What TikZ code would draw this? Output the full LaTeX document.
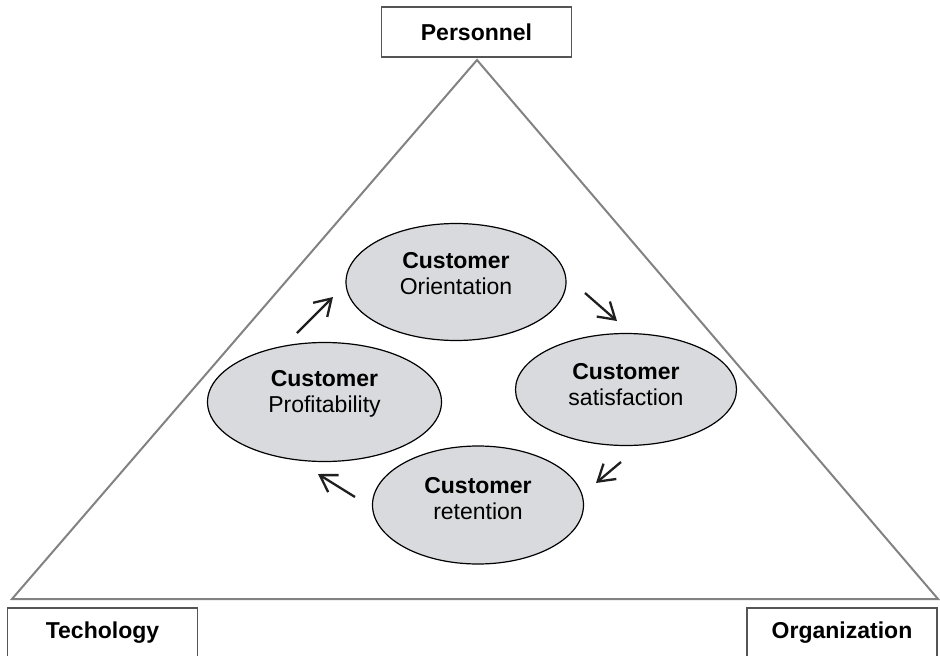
\documentclass[tikz,border=0pt]{standalone}
\usepackage{fontspec}
\setmainfont{Liberation Sans}
\usetikzlibrary{arrows.meta, shapes.geometric, positioning, calc}
\definecolor{bubblegray}{RGB}{217,218,221}
\definecolor{framegray}{RGB}{130,130,130}
\definecolor{boxgray}{RGB}{85,85,85}
\tikzset{
  cornerbox/.style={
    rectangle, draw=boxgray, line width=1.5pt, minimum width=190pt, minimum height=50pt,
    inner sep=0pt, font=\fontsize{23}{26}\selectfont\bfseries
  },
  bubble/.style={ellipse, draw=black, line width=1.2pt, fill=bubblegray, inner sep=0pt},
  bubbletext/.style={align=center, font=\fontsize{23}{26}\selectfont},
  flow/.style={-{Straight Barb[length=16pt, width=20pt]}, line width=2.3pt, draw=black!88}
}

\begin{document}
\begin{tikzpicture}[x=1pt, y=-1pt]
    \useasboundingbox (0,0) rectangle (940,656);
    % the three corners
    \node[cornerbox] (pers) at (476.5,32) {Personnel};
    \node[cornerbox] (tech) at (102.5,633) {Techology};
    \node[cornerbox] (org) at (842,633) {Organization};
    \coordinate (apex) at (477,60);
    \coordinate (baseL) at (12,599);
    \coordinate (baseR) at (938,599);
    \draw[framegray, line width=2pt] (apex) -- (baseR) -- (baseL) -- cycle;
    % the cycle of ellipses
    \node[bubble, minimum width=220pt, minimum height=117pt] (orient) at (456,282) {};
    \node[bubble, minimum width=221pt, minimum height=112pt] (satis) at (626,389.5) {};
    \node[bubble, minimum width=211pt, minimum height=118pt] (retain) at (478,505) {};
    \node[bubble, minimum width=234pt, minimum height=119pt] (profit) at (324.5,402) {};
    \node[bubbletext] at ([yshift=8pt]orient.center) {\textbf{Customer}\\Orientation};
    \node[bubbletext] at ([yshift=5pt]satis.center) {\textbf{Customer}\\satisfaction};
    \node[bubbletext] at ([yshift=6pt]retain.center) {\textbf{Customer}\\retention};
    \node[bubbletext] at ([yshift=8pt]profit.center) {\textbf{Customer}\\Profitability};
    % arrows between them
    \coordinate (a1s) at (297,333); \coordinate (a1e) at (333,297);
    \coordinate (a2s) at (585,293); \coordinate (a2e) at (617,321);
    \coordinate (a3s) at (621,462); \coordinate (a3e) at (596,483);
    \coordinate (a4s) at (355,497); \coordinate (a4e) at (318,474);
    \draw[flow] (a1s) -- (a1e);
    \draw[flow] (a2s) -- (a2e);
    \draw[flow] (a3s) -- (a3e);
    \draw[flow] (a4s) -- (a4e);
\end{tikzpicture}
\end{document}
